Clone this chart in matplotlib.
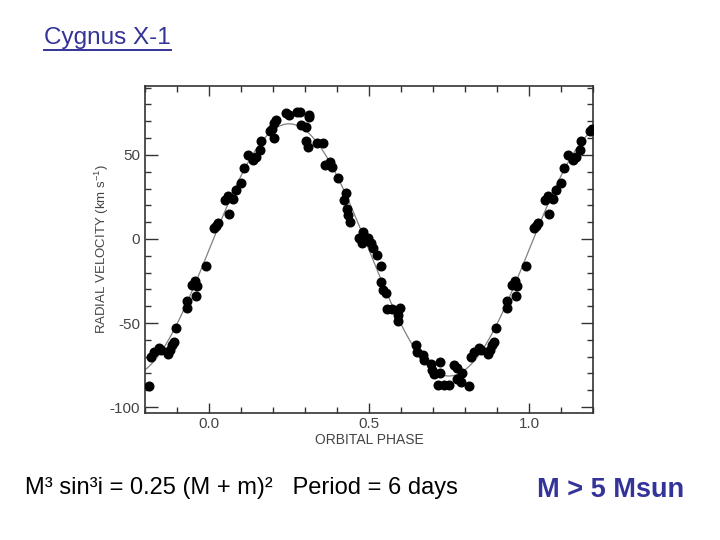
import numpy as np
import matplotlib
matplotlib.use("Agg")
import matplotlib.pyplot as plt
from matplotlib.lines import Line2D
from matplotlib.ticker import MultipleLocator, FixedLocator

plt.rcParams['font.family'] = ['Liberation Sans', 'DejaVu Sans']
plt.rcParams['axes.unicode_minus'] = False

# ---- data (orbital phase in [0,1), radial velocity km/s) ----
phase = [0.016, 0.022, 0.028, 0.049, 0.058, 0.063, 0.075, 0.085, 0.101, 0.110,
         0.122, 0.136, 0.148, 0.159, 0.163, 0.191, 0.197, 0.204, 0.204, 0.210,
         0.241, 0.250, 0.275, 0.283, 0.288, 0.304, 0.304, 0.309, 0.312, 0.314,
         0.338, 0.356, 0.362, 0.377, 0.383, 0.404, 0.421, 0.428, 0.430, 0.435,
         0.442, 0.470, 0.477, 0.482, 0.498, 0.505, 0.512, 0.524, 0.538, 0.537,
         0.545, 0.553, 0.557, 0.572, 0.597, 0.591, 0.592, 0.647, 0.650, 0.668,
         0.671, 0.695, 0.697, 0.702, 0.721, 0.723, 0.716, 0.734, 0.749, 0.765,
         0.776, 0.776, 0.789, 0.791, 0.812, 0.820, 0.828, 0.845, 0.849, 0.873,
         0.877, 0.883, 0.891, 0.898, 0.932, 0.932, 0.948, 0.955, 0.963, 0.959,
         0.992]
velocity = [6.5, 8.0, 9.5, 23.0, 25.5, 15.0, 23.5, 29.3, 33.3, 42.0,
            50.0, 46.7, 48.5, 52.7, 58.0, 64.0, 65.5, 69.0, 60.0, 71.0,
            74.8, 73.8, 75.3, 75.8, 67.9, 66.9, 58.0, 55.0, 73.8, 72.5,
            57.0, 57.0, 44.0, 46.0, 43.0, 36.0, 23.0, 27.6, 17.7, 14.3,
            10.3, 0.4, -2.6, 4.4, 0.4, -2.6, -5.5, -9.5, -15.9, -25.4,
            -30.4, -32.0, -41.5, -41.5, -41.3, -45.2, -49.0, -63.0, -67.0, -69.0,
            -72.0, -74.4, -78.0, -80.4, -73.0, -79.6, -86.9, -86.9, -86.9, -75.0,
            -77.0, -83.5, -84.9, -80.0, -87.5, -70.0, -67.0, -65.0, -66.0, -68.5,
            -66.0, -63.0, -61.0, -53.0, -41.0, -37.0, -27.4, -24.8, -28.0, -34.0,
            -16.0]

# sinusoidal orbit fit parameters
gamma_v = -6.5   # systemic velocity (km/s)
K_amp = 75.0     # semi-amplitude (km/s)

xlim = (-0.2, 1.2)
ylim = (-103.5, 91)
xtick_labels = ['0.0', '0.5', '1.0']
ytick_vals = [-100, -50, 0, 50]

phase = np.array(phase)
velocity = np.array(velocity)

# replicate points over the extra phase range shown
px, py = [], []
for shift in (-1, 0, 1):
    p = phase + shift
    m = (p >= xlim[0]) & (p <= xlim[1])
    px.append(p[m]); py.append(velocity[m])
px = np.concatenate(px); py = np.concatenate(py)

fig = plt.figure(figsize=(7.2, 5.4), dpi=100)
ax = fig.add_axes([145/720, 1-413/540, 448/720, 327/540])

phi = np.linspace(xlim[0], xlim[1], 400)
ax.plot(phi, gamma_v + K_amp*np.sin(2*np.pi*phi), color='#808080', lw=0.9, zorder=2)
ax.plot(px, py, 'o', color='black', ms=6.2, mec='black', zorder=3)

ax.set_xlim(*xlim)
ax.set_ylim(*ylim)
ax.xaxis.set_major_locator(FixedLocator([0.0, 0.5, 1.0]))
ax.set_xticklabels(xtick_labels)
ax.xaxis.set_minor_locator(MultipleLocator(0.1))
ax.yaxis.set_major_locator(FixedLocator(ytick_vals))
ax.yaxis.set_minor_locator(MultipleLocator(10))
ax.tick_params(which='both', direction='in', top=True, right=True,
               colors='#333333', labelcolor='#444444', labelsize=11)
ax.tick_params(which='major', axis='y', length=9, width=1)
ax.tick_params(which='minor', axis='y', length=4, width=1)
ax.tick_params(which='major', axis='x', length=7, width=1, pad=3)
ax.tick_params(which='minor', axis='x', length=4, width=1)
for s in ax.spines.values():
    s.set_color('#333333')
    s.set_linewidth(1.2)

ax.set_xlabel('ORBITAL PHASE', fontsize=10, color='#444444', labelpad=1)
ax.set_ylabel('RADIAL VELOCITY (km s$^{\\mathregular{-1}}$)', fontsize=9.5,
              color='#444444', labelpad=-1)

# texts
title = fig.text(44/720, 1-38/540, 'Cygnus X-1', fontsize=17.5, color='#333399',
                 ha='left', va='center')
fig.text(25/720, 1-488/540, 'M³ sin³i = 0.25 (M + m)²   Period = 6 days',
         fontsize=17, color='black', ha='left', va='center')
fig.text(537/720, 1-490/540, 'M > 5 Msun', fontsize=19.5, color='#333399',
         fontweight='bold', ha='left', va='center')

# underline title
fig.canvas.draw()
bb = title.get_window_extent()
W, H = fig.bbox.width, fig.bbox.height
yline = (bb.y0 - 0.5) / H
fig.add_artist(Line2D([bb.x0/W, bb.x1/W], [yline, yline], color='#333399',
                      lw=1.4, transform=fig.transFigure))

fig.savefig('out.png', dpi=100)
